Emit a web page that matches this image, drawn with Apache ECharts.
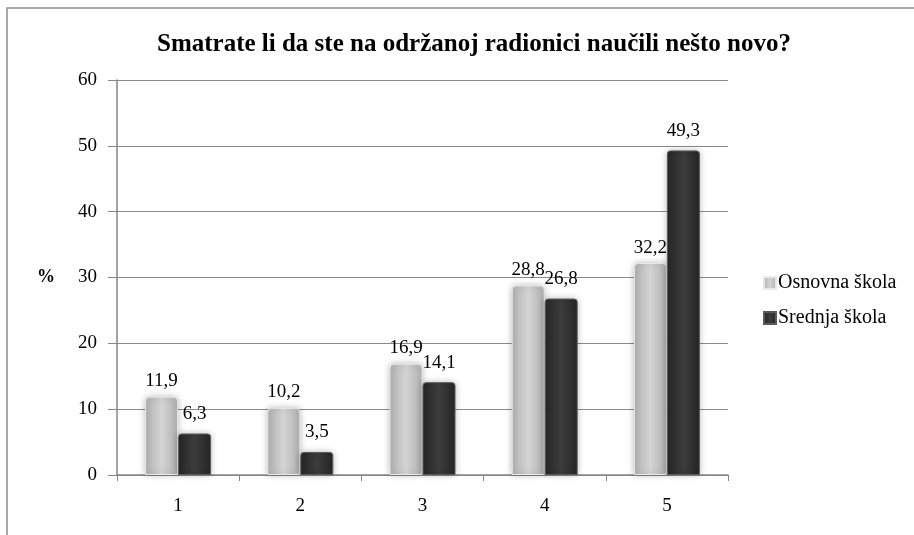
<!DOCTYPE html>
<html>
<head>
<meta charset="utf-8">
<script src="https://cdn.jsdelivr.net/npm/echarts@6/dist/echarts.min.js"></script>
<style>
    html, body { margin: 0; padding: 0; background: #fff; }
    #chart { width: 914px; height: 535px; }
</style>
</head>
<body>
<div id="chart"></div>
<script>
// podaci s grafikona
const categories = ['1', '2', '3', '4', '5']
const seriesNames = ['Osnovna škola', 'Srednja škola']
const osnovna = [11.9, 10.2, 16.9, 28.8, 32.2]
const srednja = [6.3, 3.5, 14.1, 26.8, 49.3]
const yTicks = [0, 10, 20, 30, 40, 50, 60]

const font = '"Liberation Serif", "DejaVu Serif", serif'

function barGradient(edge, mid) {
    return new echarts.graphic.LinearGradient(0, 0, 1, 0, [
        { offset: 0, color: edge },
        { offset: 0.5, color: mid },
        { offset: 1, color: edge }
    ])
}

let myChart = echarts.init(document.getElementById('chart'))
let option = {
    backgroundColor: '#fff',
    animation: false,
    title: {
        text: 'Smatrate li da ste na održanoj radionici naučili nešto novo?',
        left: 469,
        textAlign: 'center',
        top: 27,
        textStyle: { fontFamily: font, fontSize: 25, fontWeight: 'bold', color: '#000' }
    },
    legend: {
        orient: 'vertical',
        left: 758,
        top: 268,
        itemWidth: 12,
        itemHeight: 12,
        itemGap: 15,
        icon: 'rect',
        textStyle: { fontFamily: font, fontSize: 20, color: '#000', padding: [0, 0, 0, -3] },
        data: seriesNames
    },
    graphic: [{
        // okvir grafikona
        type: 'rect',
        shape: { x: 7, y: 8, width: 1000, height: 600 },
        style: { fill: 'none', stroke: '#8c8c8c', lineWidth: 1.5 },
        silent: true
    }, {
        type: 'text',
        left: 37,
        top: 268,
        style: { text: '%', font: 'bold 18px ' + font, fill: '#000' }
    }],
    grid: {
        left: 117,
        right: 186,
        top: 80,
        bottom: 60
    },
    xAxis: {
        type: 'category',
        data: categories,
        axisLine: { lineStyle: { color: '#868686', width: 1.5 } },
        axisTick: { show: true, length: 6, lineStyle: { color: '#868686' } },
        axisLabel: { fontFamily: font, fontSize: 19, color: '#000', margin: 22 }
    },
    yAxis: {
        type: 'value',
        min: yTicks[0],
        max: yTicks[yTicks.length - 1],
        interval: 10,
        axisLine: { show: true, lineStyle: { color: '#868686', width: 1.5 } },
        axisTick: { show: true, length: 9, lineStyle: { color: '#868686' } },
        axisLabel: { fontFamily: font, fontSize: 19, color: '#000', margin: 20 },
        splitLine: { lineStyle: { color: '#8a8a8a', width: 1.2 } }
    },
    series: [{
        name: seriesNames[0],
        type: 'bar',
        data: osnovna,
        barWidth: 33,
        barGap: '0%',
        itemStyle: {
            color: barGradient('#b0b0b0', '#d4d4d4'),
            borderColor: '#e8e8e8',
            borderWidth: 1,
            borderRadius: [4, 4, 0, 0],
            shadowColor: 'rgba(0,0,0,0.25)',
            shadowBlur: 6
        },
        label: {
            show: true,
            position: 'top',
            distance: 6,
            fontFamily: font,
            fontSize: 19,
            color: '#000',
            formatter: p => String(p.value).replace('.', ',')
        }
    }, {
        name: seriesNames[1],
        type: 'bar',
        data: srednja,
        barWidth: 33,
        itemStyle: {
            color: barGradient('#262626', '#3c3c3c'),
            borderColor: '#5a5a5a',
            borderWidth: 1,
            borderRadius: [3, 3, 0, 0],
            shadowColor: 'rgba(0,0,0,0.25)',
            shadowBlur: 6
        },
        label: {
            show: true,
            position: 'top',
            distance: 10,
            fontFamily: font,
            fontSize: 19,
            color: '#000',
            formatter: p => String(p.value).replace('.', ',')
        }
    }]
}
myChart.setOption(option)
</script>
</body>
</html>
